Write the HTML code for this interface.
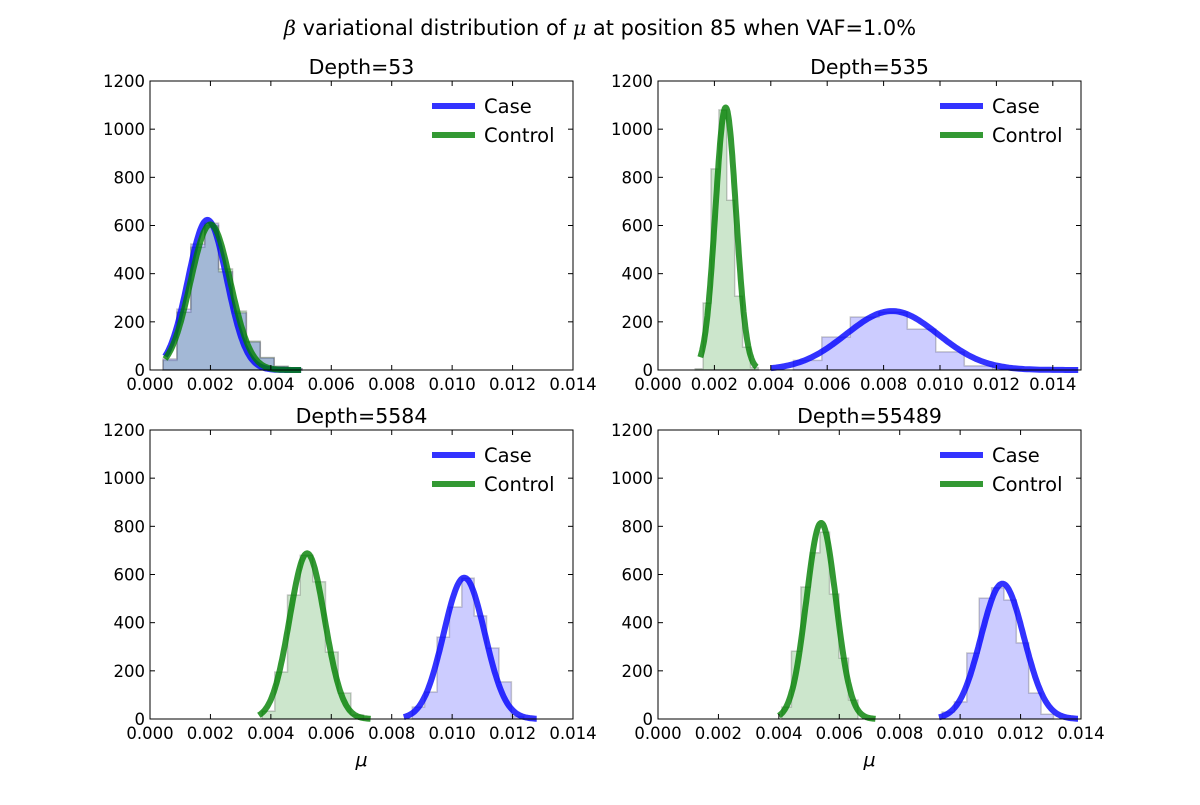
<!DOCTYPE html>
<html><head><meta charset="utf-8"><style>
body{margin:0;background:#fff}
svg text{font-family:"DejaVu Sans","Liberation Sans",sans-serif}
</style></head><body>
<svg id="c" width="1200" height="800" xmlns="http://www.w3.org/2000/svg">
<text x="600" y="35" text-anchor="middle" font-size="20.9"><tspan font-family="DejaVu Serif" font-style="italic">β</tspan> variational distribution of <tspan font-family="DejaVu Serif" font-style="italic">μ</tspan> at position 85 when VAF=1.0%</text>
</svg>
<script>
// panel data
const panelTitles=["Depth=53","Depth=535","Depth=5584","Depth=55489"];
const panelXMax=[0.014,0.015,0.014,0.014];
const xTicks=[0,0.002,0.004,0.006,0.008,0.010,0.012,0.014];
const xTickLabels=["0.000","0.002","0.004","0.006","0.008","0.010","0.012","0.014"];
const yTicks=[0,200,400,600,800,1000,1200];
// curves: mean, sd, range
const caseMean=[0.0019,0.0083,0.0104,0.0114];
const caseSd=[0.00064,0.00163,0.00068,0.00071];
const caseFrom=[0.0005,0.0040,0.0084,0.0093];
const caseTo=[0.0050,0.0149,0.0128,0.0139];
const ctrlMean=[0.0020,0.0024,0.0052,0.0054];
const ctrlSd=[0.00066,0.000366,0.00058,0.00049];
const ctrlFrom=[0.0005,0.0015,0.0036,0.0040];
const ctrlTo=[0.0050,0.0035,0.0073,0.0072];
// histograms (step-filled)
const caseHistStart=[0.00043,0.0048,0.00868,0.0094];
const caseHistWidth=[0.00046,0.00101,0.00041,0.00041];
const caseHist=[[46,253,523,610,408,237,116,50,15,5],[40,137,220,240,170,75,17,5,2],[50,112,340,465,585,428,295,154,10],[29,71,274,502,545,494,316,108,20]];
const ctrlHistStart=[0.00043,0.00132,0.00371,0.0041];
const ctrlHistWidth=[0.00046,0.00028,0.00042,0.000315];
const ctrlHist=[[40,240,510,600,420,245,120,52,15,5],[5,278,835,1080,705,307,95,10],[33,195,515,680,570,278,108,17],[50,282,548,690,776,519,253,79]];

const svg=document.getElementById('c');
const NS="http://www.w3.org/2000/svg";
function mk(t,a,p){const e=document.createElementNS(NS,t);for(const k in a)e.setAttribute(k,a[k]);(p||svg).appendChild(e);return e;}
const boxes=[[150,81],[658,81],[150,430],[658,430]];
const W=423,H=289,YMAX=1200;
const BLUE="rgba(0,0,255,0.8)",GREEN="rgba(0,128,0,0.8)";
for(let i=0;i<4;i++){
  const [x0,y0]=boxes[i];
  const g=mk('g',{});
  
  
  const X=v=>x0+v/panelXMax[i]*W, Y=v=>y0+H-v/YMAX*H;
  function hist(start,w,arr,fill,name){
    let d="M"+X(start).toFixed(1)+","+Y(0).toFixed(1);
    arr.forEach((h,k)=>{d+="L"+X(start+k*w).toFixed(1)+","+Y(h).toFixed(1)+"L"+X(start+(k+1)*w).toFixed(1)+","+Y(h).toFixed(1);});
    d+="L"+X(start+arr.length*w).toFixed(1)+","+Y(0).toFixed(1)+"Z";
    const p=mk('path',{d:d,fill:fill,stroke:"rgba(0,0,0,0.2)","stroke-width":1.5},g);
    
    
  }
  hist(ctrlHistStart[i],ctrlHistWidth[i],ctrlHist[i],"rgba(0,128,0,0.2)","control-hist");
  hist(caseHistStart[i],caseHistWidth[i],caseHist[i],"rgba(0,0,255,0.2)","case-hist");
  function curve(m,s,a,b,col,name){
    let d="";const n=120;
    for(let k=0;k<=n;k++){const v=a+(b-a)*k/n;const y=Math.exp(-0.5*((v-m)/s)**2)/(s*Math.sqrt(2*Math.PI));d+=(k?"L":"M")+X(v).toFixed(1)+","+Y(y).toFixed(1);}
    const p=mk('path',{d:d,fill:"none",stroke:col,"stroke-width":6,"stroke-linejoin":"round"},g);
    
    
  }
  curve(caseMean[i],caseSd[i],caseFrom[i],caseTo[i],BLUE,'case-curve');
  curve(ctrlMean[i],ctrlSd[i],ctrlFrom[i],ctrlTo[i],GREEN,'control-curve');
  const fr=mk('rect',{x:x0,y:y0,width:W,height:H,fill:"none",stroke:"#000","stroke-width":1},g);
  
  
  xTicks.forEach((t,k)=>{const x=X(t);
    mk('line',{x1:x,x2:x,y1:y0+H,y2:y0+H-5,stroke:"#000"},g);
    mk('line',{x1:x,x2:x,y1:y0,y2:y0+5,stroke:"#000"},g);
    const tx=mk('text',{x:x,y:y0+H+20,"text-anchor":"middle","font-size":16.5},g);tx.textContent=xTickLabels[k];
    
    });
  yTicks.forEach(t=>{const y=Y(t);
    mk('line',{x1:x0,x2:x0+5,y1:y,y2:y,stroke:"#000"},g);
    mk('line',{x1:x0+W,x2:x0+W-5,y1:y,y2:y,stroke:"#000"},g);
    const tx=mk('text',{x:x0-5,y:y+6,"text-anchor":"end","font-size":16.5},g);tx.textContent=t;
    
    });
  const tt=mk('text',{x:x0+W/2,y:y0-7,"text-anchor":"middle","font-size":20.5},g);tt.textContent=panelTitles[i];
  
  
  [[BLUE,"Case",25],[GREEN,"Control",54]].forEach(([c,l,dy])=>{
    const lg=mk('g',{},g);
    
    
    mk('line',{x1:x0+282,x2:x0+325,y1:y0+dy,y2:y0+dy,stroke:c,"stroke-width":6},lg);
    const t=mk('text',{x:x0+334,y:y0+dy+7,"font-size":19.5},lg);t.textContent=l;});
  if(i>=2){const xl=mk('text',{x:x0+W/2,y:766,"text-anchor":"middle","font-size":19,"font-style":"italic","font-family":"DejaVu Serif"},g);xl.textContent="μ";
    
    }
}
</script>
</body></html>
